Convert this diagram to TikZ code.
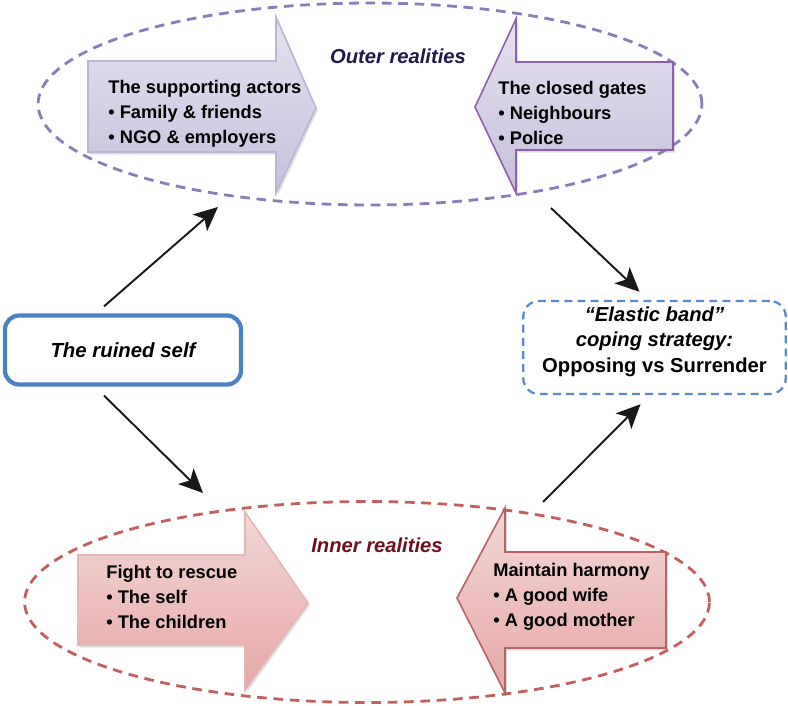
\documentclass[tikz,border=0pt]{standalone}
\usepackage{fontspec}
\setmainfont{Liberation Sans}
\usepackage{xcolor}
\usepackage{tikz}
\usetikzlibrary{arrows.meta,positioning,shapes.geometric,shadows}
\definecolor{outerfill}{HTML}{C6BFDD}
\definecolor{outerline}{HTML}{BDB4D6}
\definecolor{gateline}{HTML}{8E5FAE}
\definecolor{outerring}{HTML}{8C7DB8}
\definecolor{outertext}{HTML}{1F1A4A}
\definecolor{innerfill}{HTML}{E6A6A6}
\definecolor{rescueline}{HTML}{E4B6B6}
\definecolor{harmonyline}{HTML}{B56464}
\definecolor{innerring}{HTML}{C2605E}
\definecolor{innertext}{HTML}{6E1020}
\definecolor{selfblue}{HTML}{4A80C4}
\definecolor{copeblue}{HTML}{5A8AC8}
\tikzset{
  ringline/.style={
    ellipse,
    dash pattern=on 5.5pt off 3.8pt,
    line width=1.6pt
  },
  outerring/.style={ringline, draw=outerring},
  innerring/.style={ringline, draw=innerring},
  bigarrow/.style={
    line width=0.9pt,
    drop shadow={shadow xshift=1pt, shadow yshift=-1.5pt, opacity=0.25}
  },
  outerarrow/.style={bigarrow, top color=outerfill!45, middle color=white!92!outerfill, bottom color=outerfill},
  innerarrow/.style={bigarrow, top color=innerfill!45, middle color=white!90!innerfill, bottom color=innerfill},
  arrowtext/.style={
    anchor=west,
    align=left,
    inner sep=0pt,
    font=\fontsize{10.4}{14.2}\selectfont\bfseries
  },
  realmlabel/.style={font=\fontsize{11.5}{14}\selectfont\bfseries\itshape, inner sep=0pt},
  selfbox/.style={
    rectangle,
    rounded corners=8pt,
    draw=selfblue,
    line width=2.4pt,
    minimum width=4.72cm,
    minimum height=1.38cm,
    font=\fontsize{11.6}{14}\selectfont\bfseries\itshape
  },
  copebox/.style={
    rectangle,
    rounded corners=9pt,
    draw=copeblue,
    dash pattern=on 4.5pt off 3pt,
    line width=1.3pt,
    align=center,
    text depth=9pt,
    minimum width=5.25cm,
    minimum height=1.86cm,
    font=\fontsize{11.5}{14.5}\selectfont\bfseries
  },
  linkarrow/.style={-{Stealth[length=4.8mm,width=4.4mm,inset=1.2mm]}, line width=1.1pt, draw=black!90}
}

\begin{document}
\begin{tikzpicture}[x=0.02cm,y=-0.02cm]
\useasboundingbox (0,0) rectangle (788,706);

% outer realities
\node[outerring, minimum width=13.28cm, minimum height=4.04cm] (outer) at (370,104) {};
\draw[outerarrow, draw=outerline] (88,61) -- (276,61) -- (276,17) -- (316,108) -- (276,193) -- (276,152) -- (88,152) -- cycle;
\draw[outerarrow, draw=gateline] (673,62) -- (516,62) -- (516,19) -- (475,107) -- (516,193) -- (516,150) -- (673,150) -- cycle;
\node[arrowtext] (actors) at (108,114) {The supporting actors\\\textbullet\ Family \& friends\\\textbullet\ NGO \& employers};
\node[arrowtext] (gates) at (498,113) {The closed gates\\\textbullet\ Neighbours\\\textbullet\ Police};
\node[realmlabel, text=outertext] (outerlabel) at (398,56) {Outer realities};

% inner realities
\node[innerring, minimum width=13.7cm, minimum height=4.02cm] (inner) at (367,602) {};
\draw[innerarrow, draw=rescueline] (78,555) -- (245,555) -- (245,512) -- (308,603) -- (245,690) -- (245,645) -- (78,645) -- cycle;
\draw[innerarrow, draw=harmonyline] (666,552) -- (505,552) -- (505,508) -- (457,598) -- (505,693) -- (505,648) -- (666,648) -- cycle;
\node[arrowtext] (rescue) at (106,597) {Fight to rescue\\\textbullet\ The self\\\textbullet\ The children};
\node[arrowtext] (harmony) at (493,597) {Maintain harmony\\\textbullet\ A good wife\\\textbullet\ A good mother};
\node[realmlabel, text=innertext] (innerlabel) at (377,545) {Inner realities};

% self and coping
\node[selfbox] (self) at (123,350) {The ruined self};
\node[copebox] (cope) at (654.5,347.5) {\itshape ``Elastic band''\\\itshape coping strategy:\\Opposing vs Surrender};

\coordinate (outerin) at (218,207);
\coordinate (innerin) at (203,493);
\coordinate (outerout) at (551,208);
\coordinate (innerout) at (543,502);
\draw[linkarrow] ([xshift=-0.38cm,yshift=0.14cm]self.north) -- (outerin);
\draw[linkarrow] ([xshift=-0.38cm,yshift=-0.18cm]self.south) -- (innerin);
\draw[linkarrow] (outerout) -- ([xshift=-0.3cm,yshift=0.16cm]cope.north);
\draw[linkarrow] (innerout) -- ([xshift=-0.28cm,yshift=-0.18cm]cope.south);
\end{tikzpicture}
\end{document}
